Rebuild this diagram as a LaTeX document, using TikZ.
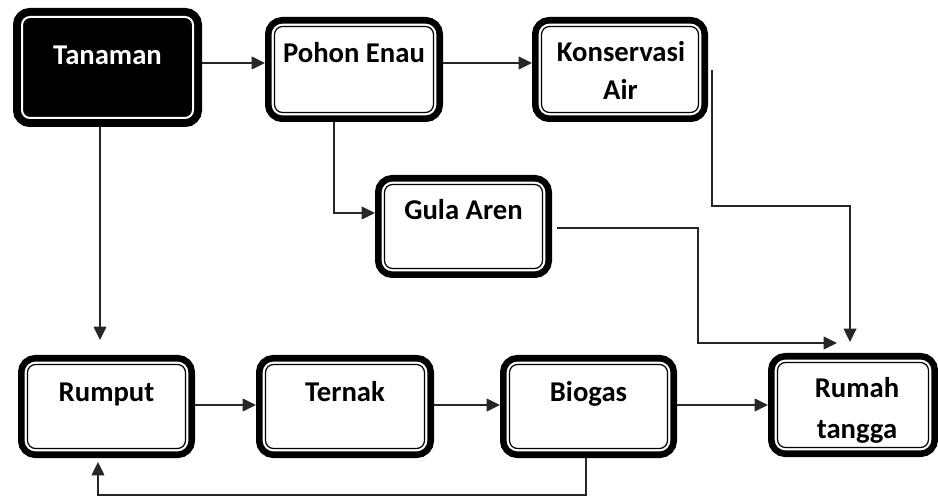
\documentclass[tikz,border=0pt]{standalone}
\usepackage{fontspec}
\setmainfont{Carlito}
\usetikzlibrary{arrows.meta}
\begin{document}
\begin{tikzpicture}[x=0.75pt,y=-0.75pt,
  box/.style={rectangle, rounded corners=6pt, inner sep=0pt, outer sep=7.125pt,
    draw=black, line width=0.9pt, fill=white,
    preaction={draw=black, line width=14.25pt},
    preaction={draw=white, line width=4.2pt}},
  darkbox/.style={rectangle, rounded corners=6pt, inner sep=0pt, outer sep=6.75pt,
    draw=white, line width=1.5pt, fill=black,
    preaction={draw=black, line width=13.5pt}},
  lbl/.style={font=\bfseries\fontsize{21.5}{26}\selectfont, inner sep=0pt, anchor=base},
  conn/.style={draw=black!85, line width=1.1pt, -{Triangle[length=10pt,width=9.5pt]}}
]
\useasboundingbox (0,0) rectangle (938,498);

% boxes
\node[darkbox, minimum width=171*0.75pt, minimum height=101*0.75pt] (tan) at (107.5,67.5) {};
\node[box, minimum width=159*0.75pt, minimum height=86*0.75pt] (poh) at (354,69.5) {};
\node[box, minimum width=157*0.75pt, minimum height=86*0.75pt] (kon) at (620,69.5) {};
\node[box, minimum width=158*0.75pt, minimum height=84*0.75pt] (gul) at (463.5,226.5) {};
\node[box, minimum width=158*0.75pt, minimum height=84*0.75pt] (rum) at (106.5,406.5) {};
\node[box, minimum width=159*0.75pt, minimum height=84*0.75pt] (ter) at (345,406.5) {};
\node[box, minimum width=158*0.75pt, minimum height=84*0.75pt] (bio) at (588.5,406.5) {};
\node[box, minimum width=151*0.75pt, minimum height=85*0.75pt] (rt) at (853,405) {};

% labels
\node[lbl, text=white] (tant) at (107.5,65) {Tanaman};
\node[lbl] (poht) at (354,63) {Pohon Enau};
\node[lbl] (kont1) at (621,62) {Konservasi};
\node[lbl] (kont2) at (620.5,100) {Air};
\node[lbl] (gult) at (463.5,220) {Gula Aren};
\node[lbl] (rumt) at (106.5,401.5) {Rumput};
\node[lbl] (tert) at (345,401.5) {Ternak};
\node[lbl] (biot) at (588.5,401.5) {Biogas};
\node[lbl] (rtt1) at (857,398) {Rumah};
\node[lbl] (rtt2) at (857,438) {tangga};

% free ends
\coordinate (t1) at (100,340);
\coordinate (r1) at (850,342);
\coordinate (r2) at (837,343);
\coordinate (r3) at (98,462);

% connectors
\draw[conn] (tan.east |- 0,63) -- (poh.west |- 0,63);
\draw[conn] (poh.east |- 0,63) -- (kon.west |- 0,63);
\draw[conn] (tan.south -| 100,0) -- (t1);
\draw[conn] (poh.south -| 334,0) |- (gul.west |- 0,213);
\draw[conn] ([xshift=3pt]kon.east |- 0,70) -- ([xshift=3pt]kon.east |- 0,206) -| (r1);
\draw[conn] ([xshift=3.75pt]gul.east |- 0,228) -| (698,280) |- (r2);
\draw[conn] (rum.east |- 0,405) -- (ter.west |- 0,405);
\draw[conn] (ter.east |- 0,405) -- (bio.west |- 0,405);
\draw[conn] (bio.east |- 0,405) -- (rt.west |- 0,405);
\draw[conn] (bio.south -| 586,0) -- (586,495) -| (r3);
\end{tikzpicture}
\end{document}
